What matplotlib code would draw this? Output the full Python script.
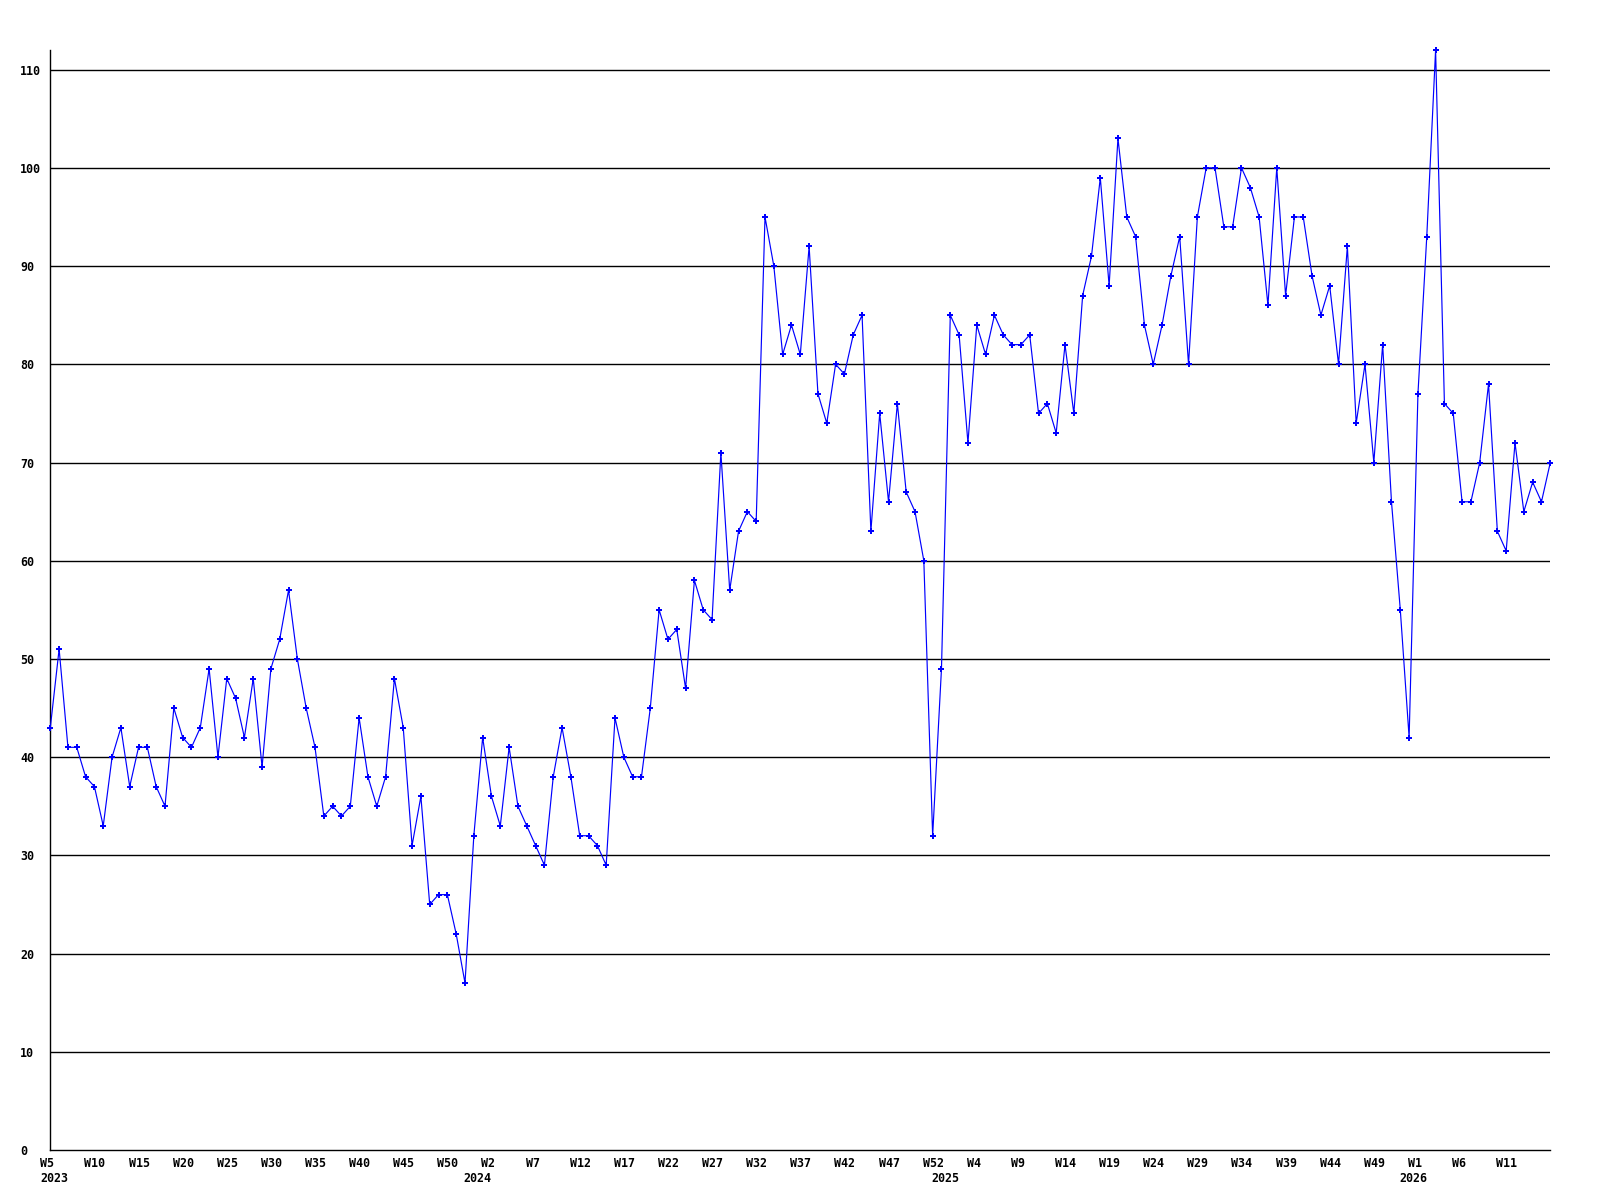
import matplotlib
matplotlib.use('Agg')
import matplotlib.pyplot as plt
from matplotlib.transforms import blended_transform_factory, offset_copy
import numpy as np

# weekly counts, 2023 W5 .. 2026 W15
values = [
    43, 51, 41, 41, 38, 37, 33, 40, 43, 37, 41, 41, 37, 35, 45, 42, 41, 43, 49, 40,
    48, 46, 42, 48, 39, 49, 52, 57, 50, 45, 41, 34, 35, 34, 35, 44, 38, 35, 38, 48,
    43, 31, 36, 25, 26, 26, 22, 17, 32, 42, 36, 33, 41, 35, 33, 31, 29, 38, 43, 38,
    32, 32, 31, 29, 44, 40, 38, 38, 45, 55, 52, 53, 47, 58, 55, 54, 71, 57, 63, 65,
    64, 95, 90, 81, 84, 81, 92, 77, 74, 80, 79, 83, 85, 63, 75, 66, 76, 67, 65, 60,
    32, 49, 85, 83, 72, 84, 81, 85, 83, 82, 82, 83, 75, 76, 73, 82, 75, 87, 91, 99,
    88, 103, 95, 93, 84, 80, 84, 89, 93, 80, 95, 100, 100, 94, 94, 100, 98, 95, 86, 100,
    87, 95, 95, 89, 85, 88, 80, 92, 74, 80, 70, 82, 66, 55, 42, 77, 93, 112, 76, 75,
    66, 66, 70, 78, 63, 61, 72, 65, 68, 66, 70,
]

week_labels = ['W5', 'W10', 'W15', 'W20', 'W25', 'W30', 'W35', 'W40', 'W45', 'W50',
               'W2', 'W7', 'W12', 'W17', 'W22', 'W27', 'W32', 'W37', 'W42', 'W47',
               'W52', 'W4', 'W9', 'W14', 'W19', 'W24', 'W29', 'W34', 'W39', 'W44',
               'W49', 'W1', 'W6', 'W11']
year_labels = ['2023', '2024', '2025', '2026']
year_starts = [0, 48, 101, 154]

FONT = dict(family='DejaVu Sans Mono', weight='bold', size=8.4)

fig = plt.figure(figsize=(16, 12), dpi=100)
ax = fig.add_axes([50.3 / 1600, 50 / 1200, 1500 / 1600, 1100 / 1200])

x = np.arange(len(values))
ax.plot(x, values, color='#0000ff', linewidth=0.85, marker='P', markersize=3.8,
        markeredgewidth=0, zorder=3, clip_on=False)

ax.set_xlim(0, len(values) - 1)
ax.set_ylim(0, 112)

yt = np.arange(0, 111, 10)
ax.set_yticks(yt)
ax.set_yticklabels([str(v) for v in yt], **FONT)
for lbl in ax.get_yticklabels():
    lbl.set_horizontalalignment('left')
ax.tick_params(axis='y', length=0, pad=21.6)
ax.set_xticks([])

for v in yt[1:]:
    ax.axhline(v, color='black', linewidth=1.0, zorder=1)

for s in ['top', 'right']:
    ax.spines[s].set_visible(False)
for s in ['left', 'bottom']:
    ax.spines[s].set_linewidth(1.0)
    ax.spines[s].set_color('black')

trans = blended_transform_factory(ax.transData, ax.transAxes)
wk_trans = offset_copy(trans, fig=fig, x=-10, y=-7, units='dots')
for i, lab in enumerate(week_labels):
    ax.text(i * 5, 0, lab, transform=wk_trans, ha='left', va='top', **FONT)

yr_trans = offset_copy(trans, fig=fig, x=-10, y=-22, units='dots')
for pos, lab in zip(year_starts, year_labels):
    ax.text(pos, 0, lab, transform=yr_trans, ha='left', va='top', **FONT)

fig.savefig('out.png', dpi=100)
